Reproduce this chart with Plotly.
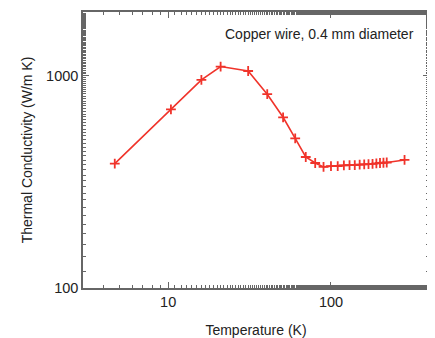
import plotly.graph_objects as go

# temperatura (K) e condutividade termica (W/m K)
temperatura = [4.7, 10.4, 16, 21, 31, 40.6, 50.8, 60.3, 70, 80, 90, 100, 110, 120,
               130, 140, 150, 160, 170, 180, 190, 200, 210, 220, 283]
condutividade = [385, 694, 955, 1104, 1052, 818, 637, 507, 414, 388, 372, 375, 375, 378,
                 379, 379, 381, 382, 383, 384, 386, 388, 389, 390, 401]

xticks = [10, 100]
yticks = [100, 1000]

cor = '#f0332a'
fonte = dict(family='Liberation Sans, Arial, sans-serif', size=14, color='#222222')
fonte_ticks = dict(family='Liberation Sans, Arial, sans-serif', size=14.5, color='#222222')

fig = go.Figure()
fig.add_trace(go.Scatter(x=temperatura, y=condutividade, mode='lines+markers',
                         line=dict(color=cor, width=1.6),
                         marker=dict(symbol='cross-thin', size=7,
                                     line=dict(color=cor, width=1.8))))

eixo = dict(type='log', showgrid=False, zeroline=False, showline=True,
            linecolor='#666666', linewidth=1.5, mirror='ticks',
            ticks='inside', ticklen=6, tickwidth=1, tickcolor='#666666',
            minor=dict(ticks='inside', ticklen=3, tickwidth=1, tickcolor='#666666'),
            tickfont=fonte_ticks, title_font=fonte)

fig.update_xaxes(**eixo, range=[0.477, 2.602], tickvals=xticks,
                 ticktext=[str(v) for v in xticks],
                 title_text='Temperature (K)', title_standoff=16)
fig.update_yaxes(**eixo, range=[2, 3.3], tickvals=yticks,
                 ticktext=[str(v) for v in yticks],
                 title_text='Thermal Conductivity (W/m K)', title_standoff=10)

fig.add_annotation(text='Copper wire, 0.4 mm diameter', xref='paper', yref='paper',
                   x=0.962, y=0.921, xanchor='right', yanchor='middle',
                   showarrow=False, font=fonte)

# a pagina tem 8px de margem no body, por isso a figura fica menor
fig.update_layout(width=427, height=330, margin=dict(l=75, r=6, t=2, b=48),
                  paper_bgcolor='white', plot_bgcolor='white', showlegend=False,
                  font=fonte)

fig.write_html('out.html')
